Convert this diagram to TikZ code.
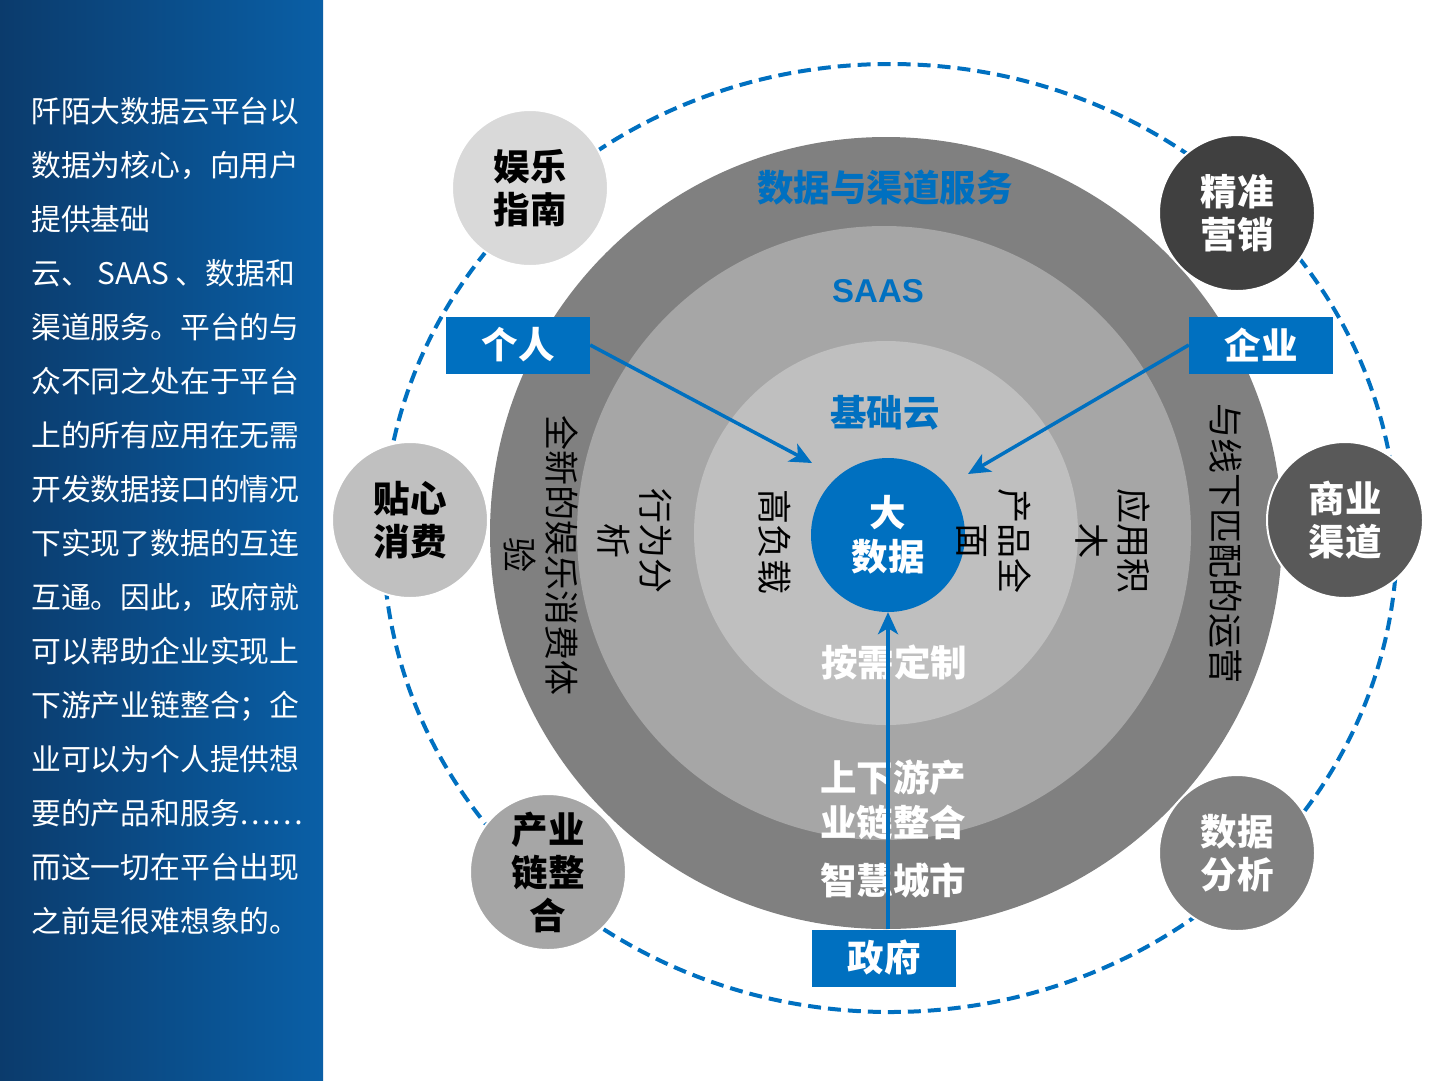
\documentclass[tikz,border=0pt]{standalone}
\usepackage{fontspec}
\setmainfont{Noto Sans CJK SC}
\newfontfamily\latinf{Liberation Sans}
\usetikzlibrary{arrows.meta,shapes.geometric}
\definecolor{myblue}{HTML}{0070C0}
\definecolor{ringA}{HTML}{808080}
\definecolor{ringB}{HTML}{A6A6A6}
\definecolor{ringC}{HTML}{BFBFBF}
\definecolor{paneldark}{HTML}{0B3B6C}
\definecolor{panellight}{HTML}{0A5FA6}
\definecolor{satA}{HTML}{D9D9D9}
\definecolor{satB}{HTML}{404040}
\definecolor{satC}{HTML}{C0C0C0}
\definecolor{satD}{HTML}{595959}
\definecolor{satE}{HTML}{A6A6A6}
\definecolor{satF}{HTML}{808080}
\begin{document}
\begin{tikzpicture}[x=1pt,y=-1pt,
  sat/.style={circle, minimum size=156pt, inner sep=0pt, draw=white, line width=2pt, align=center,
    font=\bfseries\fontsize{36.5pt}{43pt}\selectfont},
  bluebox/.style={rectangle, fill=myblue, text=white, minimum width=144pt, minimum height=57pt, inner sep=0pt,
    font=\bfseries\fontsize{36.5pt}{43pt}\selectfont},
  bluelabel/.style={text=myblue, inner sep=0pt, font=\bfseries\fontsize{36.5pt}{43pt}\selectfont},
  whitelabel/.style={text=white, inner sep=0pt, align=center, font=\bfseries\fontsize{36.5pt}{45pt}\selectfont},
  vtext/.style={rotate=-90, inner sep=0pt, align=center, text=black, font=\fontsize{35pt}{42pt}\selectfont},
  arrowline/.style={draw=myblue, line width=3.5pt, -{Stealth[length=22pt, width=20pt, inset=6pt]}}
]
\useasboundingbox (0,0) rectangle (1440,1080);
\fill[white] (0,0) rectangle (1440,1080);
\shade[left color=paneldark, right color=panellight] (0,0) rectangle (323,1080);

\node[anchor=north west, inner sep=0pt, align=left, text=white,
  font=\fontsize{29.8pt}{54pt}\selectfont] (desc) at (31,97)
{阡陌大数据云平台以\\数据为核心，向用户\\提供基础\\云、 SAAS 、数据和\\渠道服务。平台的与\\众不同之处在于平台\\上的所有应用在无需\\开发数据接口的情况\\下实现了数据的互连\\互通。因此，政府就\\可以帮助企业实现上\\下游产业链整合；企\\业可以为个人提供想\\要的产品和服务……\\而这一切在平台出现\\之前是很难想象的。};

% dashed orbit
\draw[myblue, line width=4pt, dash pattern=on 13pt off 7pt] (890,538) ellipse [x radius=507, y radius=474];

% rings
\fill[ringA] (886,533) circle [radius=396];
\fill[ringB] (884,533) circle [radius=307];
\fill[ringC] (886,533) circle [radius=192];
\node[circle, fill=myblue, minimum size=154pt, inner sep=0pt, text=white, align=center,
  font=\bfseries\fontsize{36.5pt}{44pt}\selectfont] (core) at (888,535) {大\\数据};

% ring labels
\node[bluelabel] (l1) at (885,188) {数据与渠道服务};
\node[bluelabel, font=\latinf\bfseries\fontsize{33pt}{33pt}\selectfont] (l2) at (878,291) {SAAS};
\node[bluelabel] (l3) at (885,413) {基础云};
\node[whitelabel] (w1) at (894,662) {按需定制};
\node[whitelabel] (w2) at (893,800) {上下游产\\业链整合};
\node[whitelabel] (w3) at (893,880) {智慧城市};

% vertical labels
\node[vtext] (v1) at (541,555) {全新的娱乐消费体\\验};
\node[vtext] (v2) at (635,541) {行为分\\析};
\node[vtext] (v3) at (775,542) {高负载};
\node[vtext] (v4) at (994,541) {产品全\\面};
\node[vtext] (v5) at (1113,541) {应用积\\木};
\node[vtext] (v6) at (1226,543) {与线下匹配的运营};

% satellites
\node[sat, fill=satA, text=black] (s1) at (530,188) {娱乐\\指南};
\node[sat, fill=satB, text=white] (s2) at (1237,213) {精准\\营销};
\node[sat, fill=satC, text=black] (s3) at (410,520) {贴心\\消费};
\node[sat, fill=satD, text=white] (s4) at (1345,520) {商业\\渠道};
\node[sat, fill=satE, text=black] (s5) at (548,872) {产业\\链整\\合};
\node[sat, fill=satF, text=white] (s6) at (1237,853) {数据\\分析};

% boxes
\node[bluebox] (geren) at (518,345) {个人};
\node[bluebox] (qiye) at (1261,345) {企业};
\node[bluebox] (zhengfu) at (884,958) {政府};

% arrows
\coordinate (t1) at (812,463);
\coordinate (t2) at (968,474);
\draw[arrowline] (geren.east) -- (t1);
\draw[arrowline] (qiye.west) -- (t2);
\draw[arrowline] (core.south |- zhengfu.north) -- (core.south);
\end{tikzpicture}
\end{document}
